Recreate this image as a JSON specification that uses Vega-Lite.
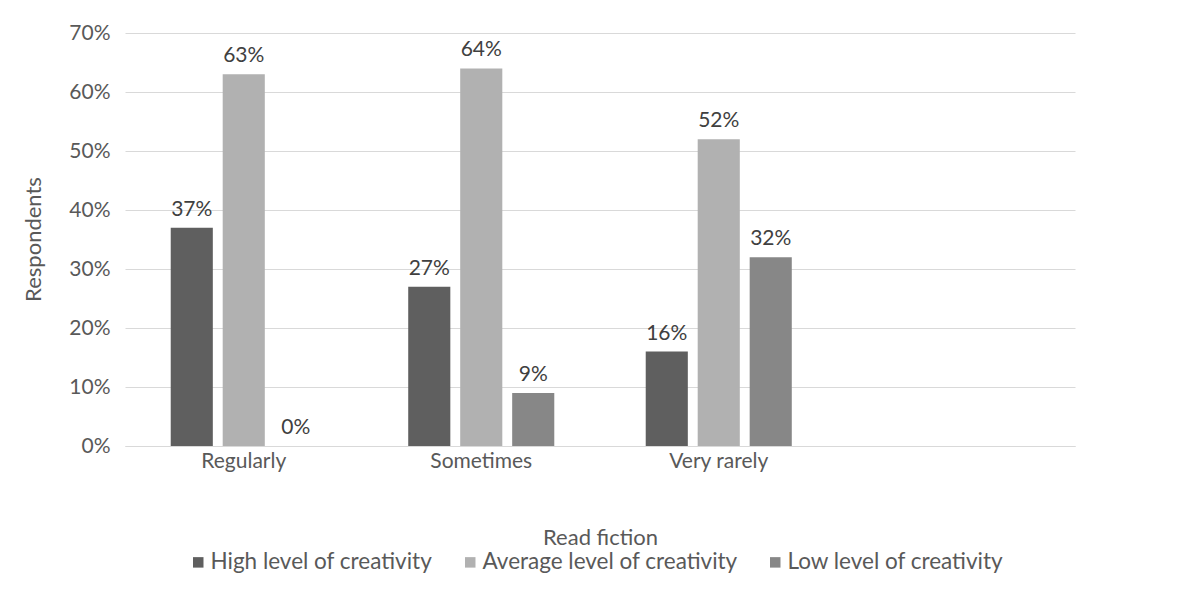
{
  "$schema": "https://vega.github.io/schema/vega-lite/v6.json",
  "autosize": "none",
  "width": 950,
  "height": 413,
  "padding": {"left": 125, "top": 33, "right": 107, "bottom": 149},
  "background": "white",
  "data": {
    "values": [
      {"freq": "Regularly", "level": "High level of creativity", "share": 0.37},
      {"freq": "Regularly", "level": "Average level of creativity", "share": 0.63},
      {"freq": "Regularly", "level": "Low level of creativity", "share": 0.0},
      {"freq": "Sometimes", "level": "High level of creativity", "share": 0.27},
      {"freq": "Sometimes", "level": "Average level of creativity", "share": 0.64},
      {"freq": "Sometimes", "level": "Low level of creativity", "share": 0.09},
      {"freq": "Very rarely", "level": "High level of creativity", "share": 0.16},
      {"freq": "Very rarely", "level": "Average level of creativity", "share": 0.52},
      {"freq": "Very rarely", "level": "Low level of creativity", "share": 0.32}
    ]
  },
  "config": {
    "font": "Lato",
    "view": {"stroke": null},
    "axis": {
      "labelColor": "#595959",
      "titleColor": "#595959",
      "labelFont": "Lato",
      "titleFont": "Lato",
      "titleFontWeight": "normal",
      "labelFontSize": 21,
      "titleFontSize": 22
    },
    "legend": {"labelFont": "Lato", "labelColor": "#595959", "labelFontSize": 22.5, "labelLimit": 0}
  },
  "encoding": {
    "x": {
      "field": "freq",
      "type": "nominal",
      "sort": null,
      "scale": {
        "domain": ["Regularly", "Sometimes", "Very rarely", " "],
        "paddingInner": 0.385,
        "paddingOuter": 0.1925
      },
      "axis": {
        "labelAngle": 0,
        "domain": true,
        "domainColor": "#d9d9d9",
        "ticks": false,
        "labelPadding": 4,
        "title": "Read fiction",
        "titleY": 91,
        "titleBaseline": "middle"
      }
    },
    "xOffset": {
      "field": "level",
      "type": "nominal",
      "sort": null,
      "scale": {
        "domain": ["High level of creativity", "Average level of creativity", "Low level of creativity"],
        "paddingInner": 0.19,
        "paddingOuter": 0
      }
    },
    "y": {
      "field": "share",
      "type": "quantitative",
      "scale": {"domain": [0, 0.7], "nice": false},
      "axis": {
        "format": ".0%",
        "values": [0, 0.1, 0.2, 0.3, 0.4, 0.5, 0.6, 0.7],
        "labelOverlap": false,
        "labelFlush": false,
        "domain": false,
        "ticks": false,
        "gridColor": "#d9d9d9",
        "labelPadding": 15,
        "title": "Respondents",
        "titleX": -92,
        "titleY": 206,
        "titleAngle": -90,
        "titleBaseline": "middle",
        "titleAlign": "center"
      }
    }
  },
  "layer": [
    {
      "mark": {"type": "bar"},
      "encoding": {
        "color": {
          "field": "level",
          "type": "nominal",
          "sort": null,
          "scale": {
            "domain": ["High level of creativity", "Average level of creativity", "Low level of creativity"],
            "range": ["#5f5f5f", "#b1b1b1", "#878787"]
          },
          "legend": {
            "title": null,
            "orient": "none",
            "direction": "horizontal",
            "legendX": 62,
            "legendY": 518,
            "symbolType": "square",
            "symbolSize": 110,
            "symbolStrokeWidth": 0,
            "symbolOpacity": 1,
            "labelOffset": 1,
            "columnPadding": 26
          }
        }
      }
    },
    {
      "mark": {"type": "text", "baseline": "bottom", "dy": -8, "fontSize": 21, "color": "#404040", "font": "Lato"},
      "encoding": {
        "text": {"field": "share", "type": "quantitative", "format": ".0%"}
      }
    }
  ]
}
